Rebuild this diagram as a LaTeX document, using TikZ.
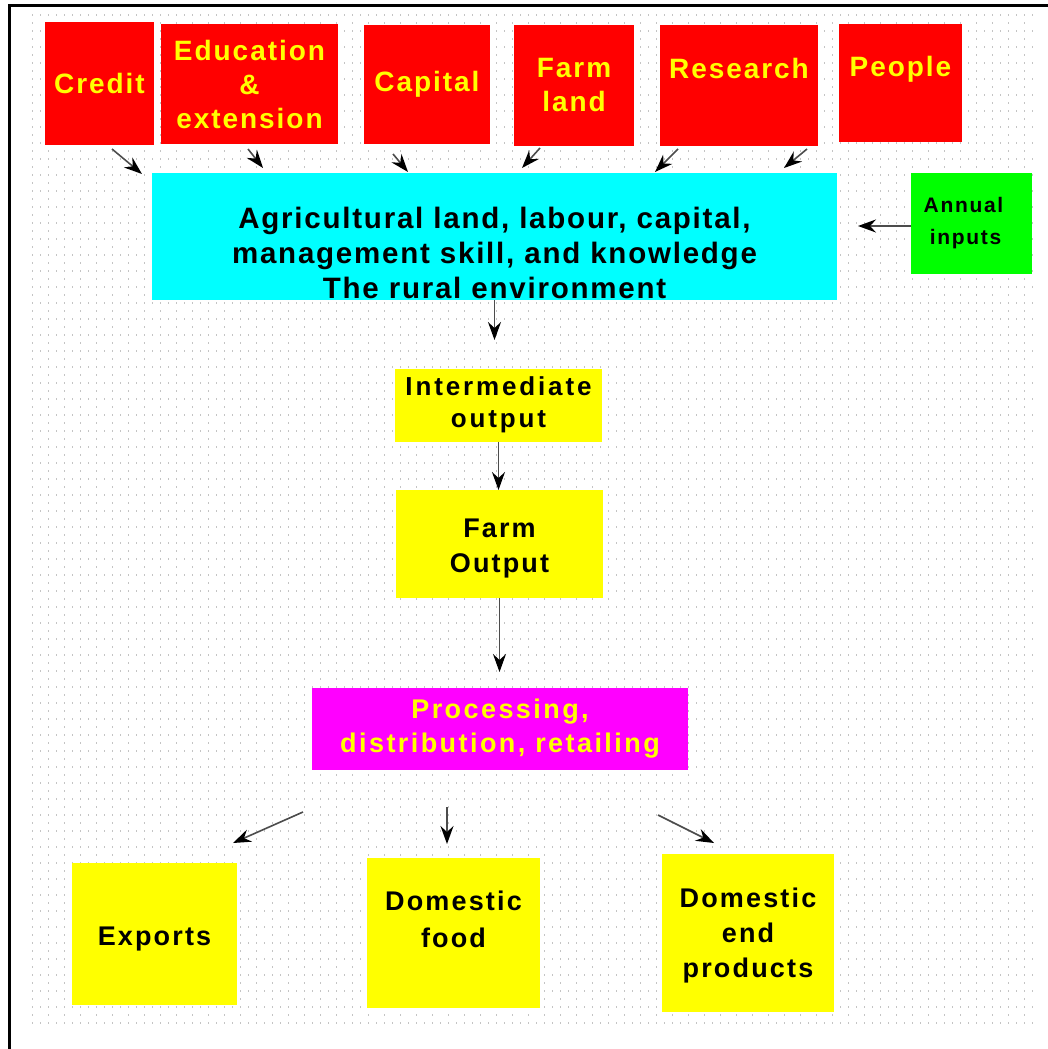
\documentclass[tikz,border=0pt]{standalone}
\usepackage{fontspec}
\setmainfont{Liberation Sans}
\usetikzlibrary{arrows.meta}
\definecolor{cRed}{HTML}{FF0000}
\definecolor{cYel}{HTML}{FFFF00}
\definecolor{cCyan}{HTML}{00FFFF}
\definecolor{cGreen}{HTML}{00FF00}
\definecolor{cMag}{HTML}{FF00FF}
\definecolor{dotc}{HTML}{C4C4C4}
\tikzset{
  box/.style={inner sep=0pt, outer sep=0pt, align=center},
  redbox/.style={box, fill=cRed, text=cYel,
    font=\bfseries\addfontfeature{LetterSpace=7}\fontsize{28}{34}\selectfont},
  yelbox/.style={box, fill=cYel, text=black,
    font=\bfseries\addfontfeature{LetterSpace=8}\fontsize{27}{35}\selectfont},
  arr/.style={draw=black!70, line width=1.6pt, -{Stealth[length=18pt,width=13pt,inset=6pt,black]}},
}
\begin{document}
\begin{tikzpicture}[x=1pt,y=-1pt]
\useasboundingbox (0,0) rectangle (1048,1049);
\fill[white] (0,0) rectangle (1048,1049);
% dotted grid background
\foreach \i in {0,...,126}{
  \pgfmathsetmacro{\yy}{15+8*\i}
  \ifodd\i \def\gap{14.7}\else\def\gap{6.7}\fi
  \draw[dotc, line width=1.3pt, dash pattern=on 1.3pt off \gap pt] (32,\yy) -- (1036,\yy);
}
% frame
\draw[line width=2.5pt] (9.5,1049) -- (9.5,5.5) -- (1048,5.5);

% top red boxes
\node[redbox, minimum width=109, minimum height=123] (credit) at (99.5,83.5) {Credit};
\node[redbox, minimum width=177, minimum height=120] (edu) at (249.5,84) {Education\\\&\\extension};
\node[redbox, minimum width=126, minimum height=119] (capital) at (427,84.5) {Capital};
\node[redbox, minimum width=120, minimum height=121] (farmland) at (574,85.5) {Farm\\land};
\node[redbox, minimum width=158, minimum height=121] (research) at (739,85.5) {Research\\~};
\node[redbox, minimum width=123, minimum height=118] (people) at (900.5,83) {People\\~};

% central cyan box
\node[box, fill=cCyan, minimum width=685, text height=125pt, text depth=2pt,
  font=\bfseries\addfontfeature{LetterSpace=6}\fontsize{29.5}{35}\selectfont] (agri) at (494.5,236.5)
  {Agricultural land, labour, capital,\\management skill, and knowledge\\The rural environment};

% annual inputs
\node[box, fill=cGreen, minimum width=121, minimum height=101,
  font=\bfseries\addfontfeature{LetterSpace=8}\fontsize{21}{32}\selectfont] (annual) at (971.5,223.5)
  {Annual\hspace*{16pt}\\inputs\hspace*{12pt}};

% chain
\node[yelbox, minimum width=207, minimum height=73,
  font=\bfseries\addfontfeature{LetterSpace=11}\fontsize{26}{32}\selectfont] (inter) at (498.5,405) {Intermediate\\output};
\node[yelbox, minimum width=207, text height=82pt, text depth=26pt] (farmout) at (499.5,544) {Farm\\Output};
\node[box, fill=cMag, text=cYel, minimum width=376, minimum height=82,
  font=\bfseries\addfontfeature{LetterSpace=9}\fontsize{27}{34}\selectfont] (proc) at (500,729)
  {Processing,\\distribution, retailing};

% bottom boxes
\node[yelbox, minimum width=165, text height=82pt, text depth=60pt] (exports) at (154.5,934) {Exports};
\node[yelbox, minimum width=173, text height=89pt, text depth=61pt,
  font=\bfseries\addfontfeature{LetterSpace=8}\fontsize{27}{37}\selectfont] (domfood) at (453.5,933) {Domestic\\food};
\node[yelbox, minimum width=172, text height=123pt, text depth=35pt] (domend) at (748,933) {Domestic\\end\\products};

% arrow end points
\coordinate (c1s) at (112,149);  \coordinate (c1e) at (142,174);
\coordinate (c2s) at (248,149);  \coordinate (c2e) at (263,168);
\coordinate (c3s) at (393,154);  \coordinate (c3e) at (408,172);
\coordinate (c4s) at (540,148);  \coordinate (c4e) at (522,168);
\coordinate (c5s) at (678,149);  \coordinate (c5e) at (655,172);
\coordinate (c6s) at (807,149);  \coordinate (c6e) at (784,168);
\coordinate (anE) at (858,226);
\coordinate (agE) at (494.5,340);
\coordinate (fE) at (499.5,672);
\coordinate (b1s) at (303,812);  \coordinate (b1e) at (233,843);
\coordinate (b2s) at (447,807);  \coordinate (b2e) at (447,844);
\coordinate (b3s) at (658,815);  \coordinate (b3e) at (714,843);

\draw[arr] (c1s) -- (c1e);
\draw[arr] (c2s) -- (c2e);
\draw[arr] (c3s) -- (c3e);
\draw[arr] (c4s) -- (c4e);
\draw[arr] (c5s) -- (c5e);
\draw[arr] (c6s) -- (c6e);
\draw[arr] (annual.west |- anE) -- (anE);
\draw[arr] (agri.south) -- (agE);
\draw[arr] (inter.south) -- (inter.south |- farmout.north);
\draw[arr] (farmout.south) -- (fE);
\draw[arr] (b1s) -- (b1e);
\draw[arr] (b2s) -- (b2e);
\draw[arr] (b3s) -- (b3e);
\end{tikzpicture}
\end{document}
